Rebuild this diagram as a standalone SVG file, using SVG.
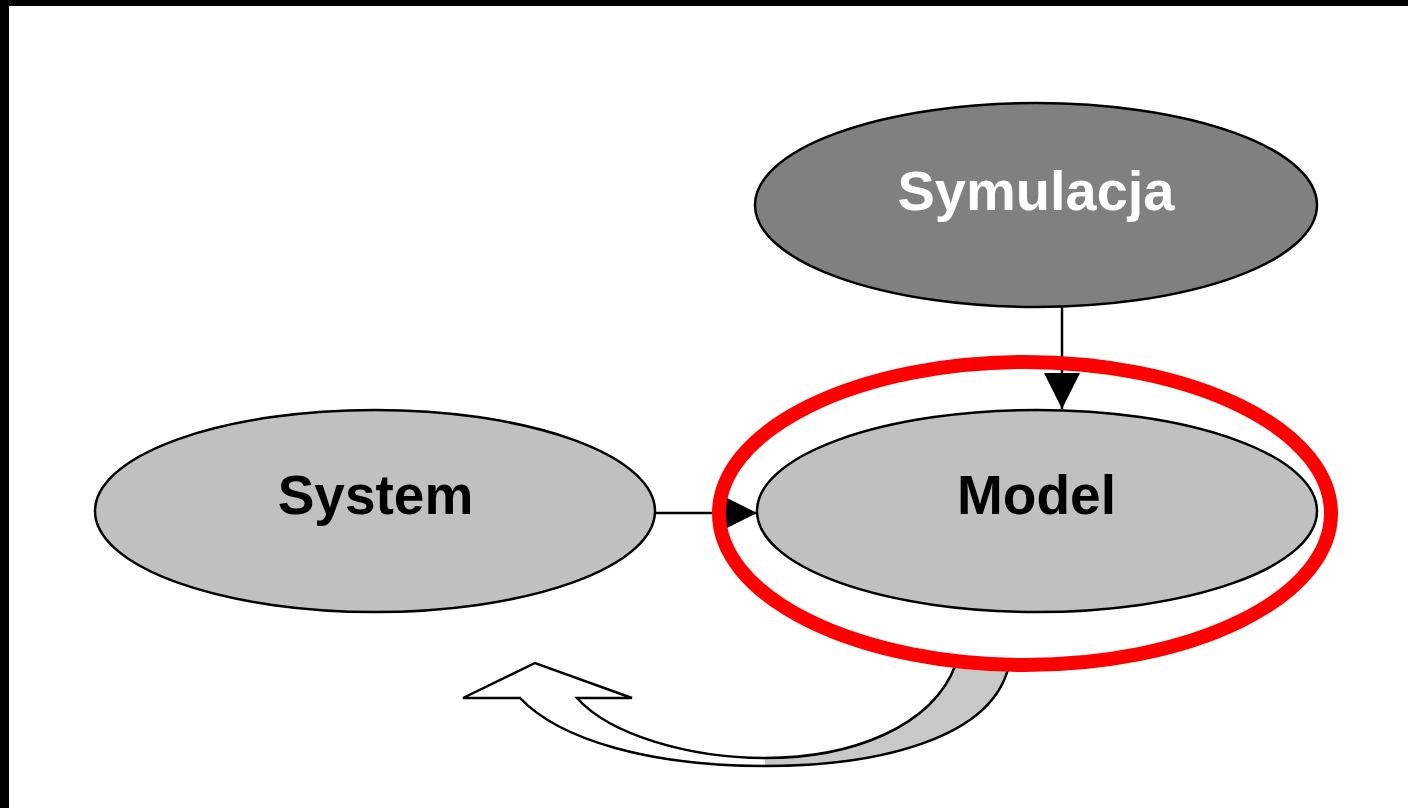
<svg xmlns="http://www.w3.org/2000/svg" width="1408" height="808" viewBox="0 0 1408 808">
  <style>
    .node { stroke: #000; stroke-width: 2.5; }
    .label { font-family: "Liberation Sans", Arial, sans-serif; font-weight: bold; text-anchor: middle; }
    .conn { stroke: #000; stroke-width: 2.5; fill: none; }
  </style>
  <defs>
    <marker id="tri" markerUnits="userSpaceOnUse" markerWidth="36" markerHeight="36" refX="36" refY="18" orient="auto" viewBox="0 0 36 36">
      <path d="M0,0 L36,18 L0,36 Z" fill="#000"/>
    </marker>
  </defs>
  <rect x="0" y="0" width="1408" height="808" fill="#fff"/>
  <rect x="0" y="0" width="1408" height="6" fill="#000"/>
  <rect x="0" y="0" width="9" height="808" fill="#000"/>

  <g id="connectors">
    <line class="conn" x1="655" y1="513" x2="757" y2="513" marker-end="url(#tri)"/>
    <line class="conn" x1="1062" y1="307" x2="1062" y2="409" marker-end="url(#tri)"/>
  </g>

  <g id="symulacja">
    <ellipse class="node" cx="1036" cy="205" rx="281" ry="102" fill="#808080"/>
    <text class="label" x="1036" y="210" font-size="56" fill="#fff">Symulacja</text>
  </g>

  <g id="system">
    <ellipse class="node" cx="375" cy="511" rx="280" ry="101" fill="#c0c0c0"/>
    <text class="label" x="375.5" y="514" font-size="55" fill="#000">System</text>
  </g>

  <g id="model">
    <ellipse class="node" cx="1037" cy="511" rx="280" ry="101" fill="#c0c0c0"/>
    <text class="label" x="1036.5" y="514" font-size="55" fill="#000">Model</text>
  </g>

  <g id="curved-arrow">
    <path d="M765,766 C650,766 560,740 520,698 L463,698 L535,663 L632,698 L577,698 C610,735 690,758 765,758 Z" fill="#fff"/>
    <path d="M1009,665 C993,738 880,766 765,766 L765,758 C850,758 932,728 956,664 Z" fill="#c8c8c8"/>
    <path d="M1009,665 C993,738 880,766 765,766 C650,766 560,740 520,698 L463,698 L535,663 L632,698 L577,698 C610,735 690,758 765,758 C850,758 932,728 956,664" fill="none" stroke="#000" stroke-width="2.5" stroke-linejoin="miter"/>
  </g>

  <g id="highlight">
    <ellipse cx="1025" cy="513.5" rx="306" ry="151.5" fill="none" stroke="#ff0000" stroke-width="14"/>
  </g>
</svg>
